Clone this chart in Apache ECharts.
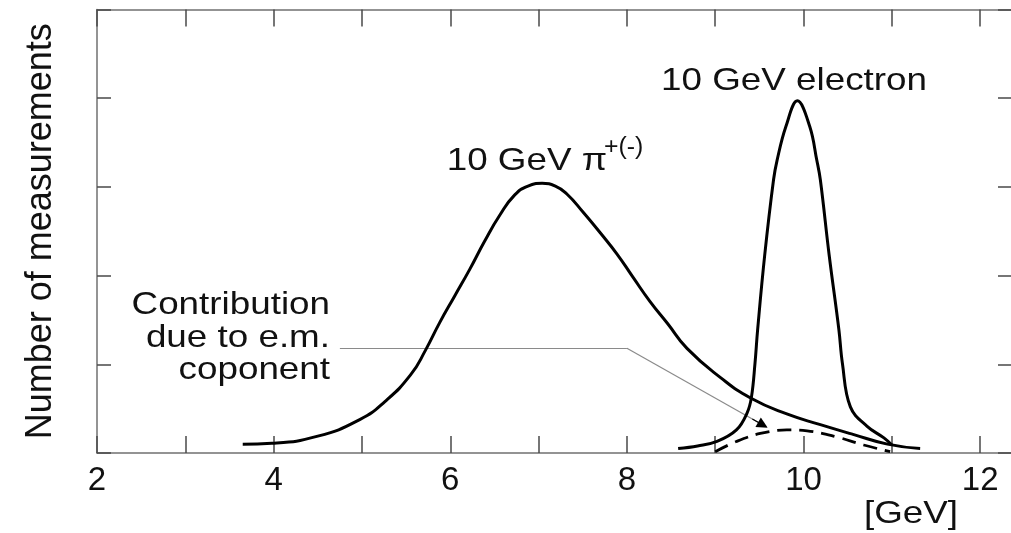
<!DOCTYPE html>
<html>
<head>
<meta charset="utf-8">
<script src="https://cdn.jsdelivr.net/npm/echarts@6/dist/echarts.min.js"></script>
<style>
  html, body { margin: 0; padding: 0; background: #fff; }
  #chart { width: 1011px; height: 533px; }
</style>
</head>
<body>
<div id="chart"></div>
<script>
// Calorimeter response to 10 GeV pions and 10 GeV electrons

// Labelled energies on the horizontal axis [GeV]
const energyTicks = [2, 4, 6, 8, 10, 12];

// 10 GeV pi+(-) response
const pionEnergy = [3.65, 3.98, 4.50, 4.98, 5.26, 5.55, 5.72, 5.88, 6.05, 6.22, 6.39, 6.56, 6.73, 6.88, 7.04,
                    7.19, 7.32, 7.50, 7.70, 7.89, 8.07, 8.26, 8.46, 8.68, 9.06, 9.40, 9.81, 10.19, 10.56, 10.95, 11.32];
const pionCount  = [0.10, 0.11, 0.19, 0.38, 0.58, 0.88, 1.16, 1.47, 1.77, 2.07, 2.39, 2.68, 2.91, 3.01, 3.04,
                    3.01, 2.92, 2.72, 2.48, 2.24, 1.98, 1.71, 1.46, 1.18, 0.85, 0.62, 0.44, 0.32, 0.21, 0.10, 0.05];

// 10 GeV electron response
const electronEnergy = [8.58, 8.80, 9.02, 9.24, 9.36, 9.41, 9.45, 9.48, 9.56, 9.66, 9.70, 9.80, 9.93,
                        10.07, 10.15, 10.19, 10.29, 10.40, 10.44, 10.53, 10.72, 10.91, 11.00];
const electronCount  = [0.05, 0.08, 0.13, 0.26, 0.45, 0.63, 1.01, 1.39, 2.23, 3.08, 3.30, 3.68, 3.97,
                        3.68, 3.30, 3.08, 2.23, 1.39, 1.01, 0.52, 0.30, 0.17, 0.09];

// Electromagnetic component inside the pion showers
const emEnergy = [9.00, 9.24, 9.51, 9.81, 10.04, 10.38, 10.68, 10.98];
const emCount  = [0.015, 0.13, 0.22, 0.26, 0.25, 0.18, 0.09, 0.015];

// Leader from the e.m. note to the dashed curve, in axis units
const emPointer = [[4.75, 1.18], [8.0, 1.18], [9.54, 0.316]];

const pairs = (xs, ys) => xs.map((x, i) => [x, ys[i]]);
const FONT = '"Liberation Sans", Arial, Helvetica, sans-serif';
const INK = '#111';
const FRAME = { color: '#707070', width: 1.5 };
const TICK = { color: '#4a4a4a', width: 1.5 };

const chart = echarts.init(document.getElementById('chart'), null, { renderer: 'canvas' });

// short black stub at the end of the leader that carries the arrow head
const n = emPointer.length;
const tipFrom = [
  emPointer[n - 1][0] - 0.12,
  emPointer[n - 1][1] + (emPointer[n - 2][1] - emPointer[n - 1][1]) * 0.12 / (emPointer[n - 1][0] - emPointer[n - 2][0])
];

const option = {
  backgroundColor: '#fff',
  animation: false,
  grid: { left: 97, right: -1, top: 9.5, bottom: 80, containLabel: false, outerBoundsMode: 'none' },
  xAxis: [
    {
      type: 'value', position: 'bottom', min: 2, max: 12.36, interval: 1,
      axisLine: { show: true, onZero: false, lineStyle: FRAME },
      axisTick: { show: true, inside: true, length: 17, lineStyle: TICK },
      axisLabel: {
        show: true, margin: 11, fontSize: 33, color: INK, fontFamily: FONT,
        showMinLabel: true, showMaxLabel: false,
        formatter: v => (energyTicks.includes(v) ? String(v) : '')
      },
      splitLine: { show: false }
    },
    {
      type: 'value', position: 'top', min: 2, max: 12.36, interval: 1,
      axisLine: { show: true, onZero: false, lineStyle: FRAME },
      axisTick: { show: true, inside: true, length: 17, lineStyle: TICK },
      axisLabel: { show: false },
      splitLine: { show: false }
    }
  ],
  yAxis: [
    {
      type: 'value', position: 'left', min: 0, max: 5, interval: 1,
      name: 'Number of measurements', nameLocation: 'middle', nameRotate: 90, nameGap: 38,
      nameTextStyle: { fontSize: 36, color: INK, fontFamily: FONT },
      axisLine: { show: true, onZero: false, lineStyle: FRAME },
      axisTick: { show: true, inside: true, length: 14, lineStyle: TICK },
      axisLabel: { show: false },
      splitLine: { show: false }
    },
    {
      type: 'value', position: 'right', min: 0, max: 5, interval: 1,
      axisLine: { show: true, onZero: false, lineStyle: FRAME },
      axisTick: { show: true, inside: true, length: 14, lineStyle: TICK },
      axisLabel: { show: false },
      splitLine: { show: false }
    }
  ],
  series: [
    {
      name: 'pion', type: 'line', xAxisIndex: 0, yAxisIndex: 0,
      data: pairs(pionEnergy, pionCount), smooth: 0.5, symbol: 'none',
      lineStyle: { color: '#000', width: 3 }, z: 3
    },
    {
      name: 'electron', type: 'line', xAxisIndex: 0, yAxisIndex: 0,
      data: pairs(electronEnergy, electronCount), smooth: 0.4, symbol: 'none',
      lineStyle: { color: '#000', width: 3 }, z: 3
    },
    {
      name: 'e.m. component', type: 'line', xAxisIndex: 0, yAxisIndex: 0,
      data: pairs(emEnergy, emCount), smooth: 0.4, symbol: 'none',
      lineStyle: { color: '#000', width: 2.8, type: [14, 8] }, z: 3
    },
    {
      name: 'pointer', type: 'lines', coordinateSystem: 'cartesian2d', xAxisIndex: 0, yAxisIndex: 0,
      symbol: ['none', 'none'], silent: true, z: 2,
      lineStyle: { color: '#8a8a8a', width: 1.2, opacity: 1 },
      data: [
        { coords: [emPointer[0], emPointer[1]] },
        { coords: [emPointer[1], emPointer[2]] },
        {
          coords: [tipFrom, emPointer[2]],
          symbol: ['none', 'triangle'], symbolSize: [8, 11],
          lineStyle: { color: '#000', width: 1.2 }
        }
      ]
    }
  ],
  graphic: [
    {
      type: 'text', x: 661, y: 81, scaleX: 1.15,
      style: { text: '10 GeV electron', fontSize: 32, fontFamily: FONT, fill: INK, align: 'left', verticalAlign: 'middle' }
    },
    {
      type: 'text', x: 446.7, y: 161, scaleX: 1.15,
      style: { text: '10 GeV π', fontSize: 32, fontFamily: FONT, fill: INK, align: 'left', verticalAlign: 'middle' }
    },
    {
      type: 'text', x: 604, y: 148, scaleX: 1.08,
      style: { text: '+(-)', fontSize: 23, fontFamily: FONT, fill: INK, align: 'left', verticalAlign: 'middle' }
    },
    {
      type: 'text', x: 330, y: 338, scaleX: 1.15,
      style: {
        text: 'Contribution\ndue to e.m.\ncoponent', fontSize: 32, lineHeight: 32.5,
        fontFamily: FONT, fill: INK, align: 'right', verticalAlign: 'middle'
      }
    },
    {
      type: 'text', x: 911, y: 514, scaleX: 1.15,
      style: { text: '[GeV]', fontSize: 32, fontFamily: FONT, fill: INK, align: 'center', verticalAlign: 'middle' }
    }
  ]
};

chart.setOption(option);
</script>
</body>
</html>
